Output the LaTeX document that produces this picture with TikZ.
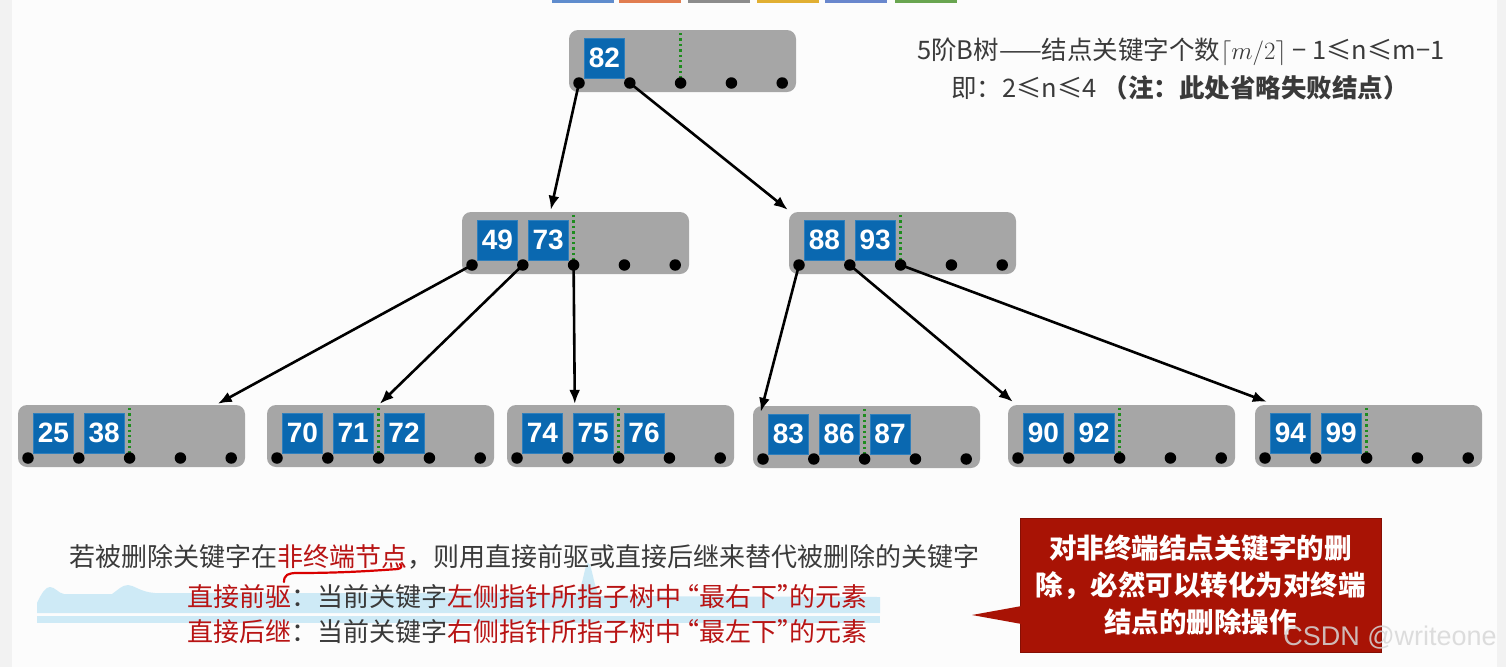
\documentclass[tikz,border=0pt]{standalone}
\usepackage{fontspec}
\setmainfont{Liberation Sans}
\newfontfamily\cjk{Noto Sans CJK SC}
\usetikzlibrary{arrows.meta,calc}
\definecolor{boxgray}{HTML}{A6A6A6}
\definecolor{keyblue}{HTML}{0A68B0}
\definecolor{dotgreen}{HTML}{1E8C1E}
\definecolor{txtgray}{HTML}{3A3A3A}
\definecolor{txtred}{HTML}{B81414}
\definecolor{notered}{HTML}{A81305}
\definecolor{hlblue}{HTML}{C6E8F6}
\definecolor{pagebg}{HTML}{FCFCFC}
\definecolor{sidebg}{HTML}{F2F2F2}
\definecolor{wmgray}{HTML}{D7D7D7}
\newcommand\btnode[5]{%
  \node[bbox] (#1) at ({#2+113.5},{#3+31}) {};
  \draw[gline] ({#2+10+50.8*#5},{#3+3}) -- ({#2+10+50.8*#5},{#3+49});
  \foreach \i in {0,...,4}{\node[bdot] (#1-d\i) at ({#2+10+50.8*\i},{#3+53}) {};}
  \foreach \k [count=\c from 0] in {#4}{\node[bkey] (#1-k\c) at ({#2+35.4+50.8*\c},{#3+28}) {\k};}
}
\newcommand\myLq{\kern-8pt“}
\newcommand\myRq{”\kern-14pt}
\begin{document}
\begin{tikzpicture}[x=1pt,y=-1pt,
  bbox/.style={fill=boxgray, rounded corners=9pt, minimum width=227pt, minimum height=62pt, inner sep=0pt},
  bkey/.style={fill=keyblue, draw=keyblue!85!white, line width=0.6pt, minimum size=40pt, inner sep=0pt, text=white, font=\fontsize{28}{28}\selectfont\bfseries},
  bdot/.style={circle, fill=black, inner sep=0pt, minimum size=11.5pt},
  gline/.style={dotgreen, line width=2.6pt, dash pattern=on 2.4pt off 3pt},
  arr/.style={-{Latex[length=14pt,width=11pt]}, line width=2.6pt, black},
  cjktxt/.style={inner sep=0pt, text=txtgray, font=\cjk\fontsize{26}{30}\selectfont},
  notebox/.style={fill=notered, draw=notered!80!black, line width=0.8pt, minimum width=361pt, minimum height=134pt, inner sep=0pt, align=center, text=white, font=\cjk\bfseries\fontsize{27.5}{37}\selectfont},
  topbar/.style={minimum width=62pt, minimum height=3pt, inner sep=0pt}
]
\useasboundingbox (0,0) rectangle (1506,667);
\fill[pagebg] (0,0) rectangle (1506,667);
\fill[sidebg] (0,0) rectangle (12,667);
\fill[sidebg] (1497,0) rectangle (1506,667);

% top toolbar remnants
\node[topbar, fill={rgb,255:red,95;green,140;blue,205}] (b1) at (583,1.5) {};
\node[topbar, fill={rgb,255:red,225;green,125;blue,80}] (b2) at (650,1.5) {};
\node[topbar, fill={rgb,255:red,140;green,140;blue,140}] (b3) at (719,1.5) {};
\node[topbar, fill={rgb,255:red,225;green,175;blue,50}] (b4) at (788,1.5) {};
\node[topbar, fill={rgb,255:red,105;green,135;blue,205}] (b5) at (856,1.5) {};
\node[topbar, fill={rgb,255:red,105;green,165;blue,80}] (b6) at (926,1.5) {};

% B-tree nodes
\btnode{T}{569}{30}{82}{2}
\btnode{ML}{462}{212}{49,73}{2}
\btnode{MR}{789}{212}{88,93}{2}
\btnode{L1}{18}{405}{25,38}{2}
\btnode{L2}{267}{405}{70,71,72}{2}
\btnode{L3}{507}{405}{74,75,76}{2}
\btnode{L4}{753}{406}{83,86,87}{2}
\btnode{L5}{1008}{405}{90,92}{2}
\btnode{L6}{1255}{405}{94,99}{2}

% arrow targets
\coordinate (ML-in) at ($(ML.north west)+(89,-2)$);
\coordinate (MR-in) at ($(MR.north west)+(-1,-2)$);
\coordinate (L1-in) at ($(L1.north west)+(200,-1)$);
\coordinate (L2-in) at ($(L2.north west)+(113,-1)$);
\coordinate (L3-in) at ($(L3.north west)+(68,-1)$);
\coordinate (L4-in) at ($(L4.north west)+(8,6)$);
\coordinate (L5-in) at ($(L5.north west)+(5,-3)$);
\coordinate (L6-in) at ($(L6.north west)+(12,-3)$);

\draw[arr] (T-d0.center) -- (ML-in);
\draw[arr] (T-d1.center) -- (MR-in);
\draw[arr] (ML-d0.center) -- (L1-in);
\draw[arr] (ML-d1.center) -- (L2-in);
\draw[arr] (ML-d2.center) -- (L3-in);
\draw[arr] (MR-d0.center) -- (L4-in);
\draw[arr] (MR-d1.center) -- (L5-in);
\draw[arr] (MR-d2.center) -- (L6-in);

% top-right caption
\node[anchor=west, inner sep=0pt, text=txtgray, font=\cjk\fontsize{25.5}{30}\selectfont] (cap1) at (917,52)
  {5阶B树——结点关键字个数$\lceil m/2\rceil$ − 1≤n≤m−1};
\node[inner sep=0pt, text=txtgray, font=\cjk\fontsize{25.5}{30}\selectfont] (cap2) at (1180,88)
  {即：2≤n≤4 {\bfseries （注：此处省略失败结点）}};

% light blue highlight artifact
\fill[hlblue, opacity=0.85] (37,603) .. controls (42,592) and (46,587) .. (50,587)
  .. controls (55,587) and (58,593) .. (64,594) -- (112,594)
  .. controls (118,590) and (122,585) .. (128,585)
  .. controls (134,585) and (140,592) .. (155,593) -- (578,593)
  .. controls (583,585) and (585,563) .. (588,563)
  .. controls (592,563) and (594,590) .. (600,596) -- (880,597)
  -- (880,613) -- (37,613) -- cycle;
\fill[hlblue, opacity=0.85] (37,616) rectangle (880,623);

% bottom text
\node[cjktxt, anchor=west] (line1) at (69,557)
  {若被删除关键字在\textcolor{txtred}{非终端节点}，则用直接前驱或直接后继来替代被删除的关键字};
\node[cjktxt, anchor=west] (line2) at (187,597)
  {\textcolor{txtred}{直接前驱}：当前关键字\textcolor{txtred}{左侧指针所指子树中\myLq 最右下\myRq 的元素}};
\node[cjktxt, anchor=west] (line3) at (187,632)
  {\textcolor{txtred}{直接后继}：当前关键字\textcolor{txtred}{右侧指针所指子树中\myLq 最左下\myRq 的元素}};

% red hand-drawn underline
\draw[red!85!black, line width=2.2pt, line cap=round]
  (284,582) .. controls (284,575) and (288,573) .. (297,573)
  .. controls (340,573) and (370,571) .. (398,569)
  .. controls (402,568) and (402,566) .. (400,564);

% red note
\node[notebox] (note) at (1200.5,585) {对非终端结点关键字的删\\除，必然可以转化为对终端\\结点的删除操作};
\coordinate (tip) at (972,615);
\fill[notered] (tip) -- ($(note.west)+(2,21)$) -- ($(note.west)+(2,39)$) -- cycle;

% watermark
\node[inner sep=0pt, text=wmgray, opacity=0.85, font=\fontsize{27}{27}\selectfont] (wm) at (1390,638) {CSDN @writeone};
\end{tikzpicture}
\end{document}
